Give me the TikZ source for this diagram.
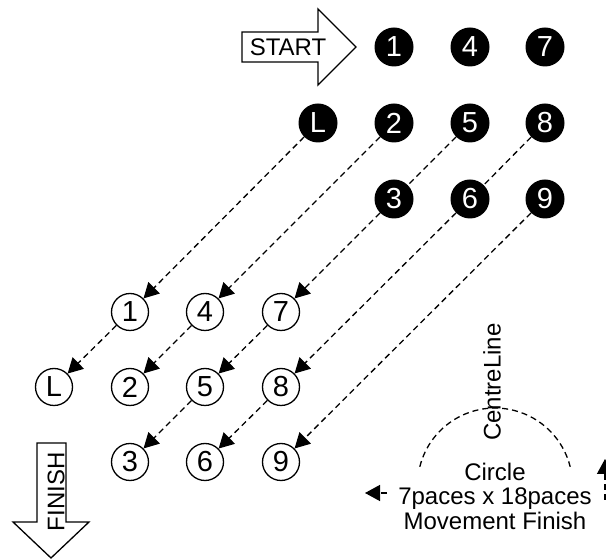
\documentclass[tikz,border=0pt]{standalone}
\usepackage{fontspec}
\setmainfont{Liberation Sans}
\usetikzlibrary{arrows.meta}

\begin{document}
\begin{tikzpicture}[x=1pt,y=1pt,
    blk/.style={circle,fill=black,text=white,minimum size=39pt,inner sep=0pt,font=\fontsize{29}{29}\selectfont},
    wht/.style={circle,draw,line width=1.3pt,minimum size=37pt,inner sep=0pt,font=\fontsize{29}{29}\selectfont},
    trail/.style={line width=1.3pt,dash pattern=on 6pt off 4pt},
    walk/.style={trail,-{Triangle[length=15pt,width=16pt]}},
    bigarrow/.style={draw,line width=1.3pt,fill=white},
    label/.style={font=\fontsize{24}{24.5}\selectfont,inner sep=0pt}]

    \clip (0,0) rectangle (606,560);

    % start and finish
    \draw[bigarrow] (242,528) -- (318,528) -- (318,551) -- (356,513) -- (318,475) -- (318,498) -- (242,498) -- cycle;
    \node[label] (start) at (288,513) {START};
    \draw[bigarrow] (37,117) -- (66,117) -- (66,38) -- (89,38) -- (51,2) -- (13,38) -- (37,38) -- cycle;
    \node[label,rotate=90] (finish) at (56,68) {FINISH};

    % starting positions
    \node[blk] (b1) at (394,513) {1};
    \node[blk] (b4) at (470,513) {4};
    \node[blk] (b7) at (545,513) {7};
    \node[blk] (bL) at (318,437) {L};
    \node[blk] (b2) at (394,437) {2};
    \node[blk] (b5) at (470,437) {5};
    \node[blk] (b8) at (545,437) {8};
    \node[blk] (b3) at (394,361) {3};
    \node[blk] (b6) at (470,361) {6};
    \node[blk] (b9) at (545,361) {9};

    % finishing positions
    \node[wht] (w1) at (130,248) {1};
    \node[wht] (w4) at (205,248) {4};
    \node[wht] (w7) at (281,248) {7};
    \node[wht] (wL) at (54,173)  {L};
    \node[wht] (w2) at (130,173) {2};
    \node[wht] (w5) at (205,173) {5};
    \node[wht] (w8) at (281,173) {8};
    \node[wht] (w3) at (130,98)  {3};
    \node[wht] (w6) at (205,98)  {6};
    \node[wht] (w9) at (281,98)  {9};

    \draw (bL) edge[walk] (w1);
    \draw (b2) edge[walk] (w4);
    \draw (b5) edge[trail] (b3);
    \draw (b3) edge[walk] (w7);
    \draw (b8) edge[trail] (b6);
    \draw (b6) edge[walk] (w8);
    \draw (b9) edge[walk] (w9);
    \draw (w1) edge[walk] (wL);
    \draw (w4) edge[walk] (w2);
    \draw (w7) edge[walk] (w5);
    \draw (w5) edge[walk] (w3);
    \draw (w8) edge[walk] (w6);

    % circle movement
    \coordinate (arcL) at (419.8,93.2);
    \draw[trail] (arcL) arc[start angle=166,end angle=14,radius=77.5];
    \node[label,rotate=90] (centre) at (492,178) {CentreLine};
    \node[label,align=center] (circ) at (495,64) {Circle\\7paces x 18paces\\Movement Finish};
    \coordinate (lfrom) at (387,67);
    \coordinate (lto) at (365,67);
    \draw (lfrom) edge[walk] (lto);
    \coordinate (rfrom) at (605,60);
    \coordinate (rto) at (605,101);
    \draw (rfrom) edge[walk] (rto);
  \end{tikzpicture}
\end{document}
